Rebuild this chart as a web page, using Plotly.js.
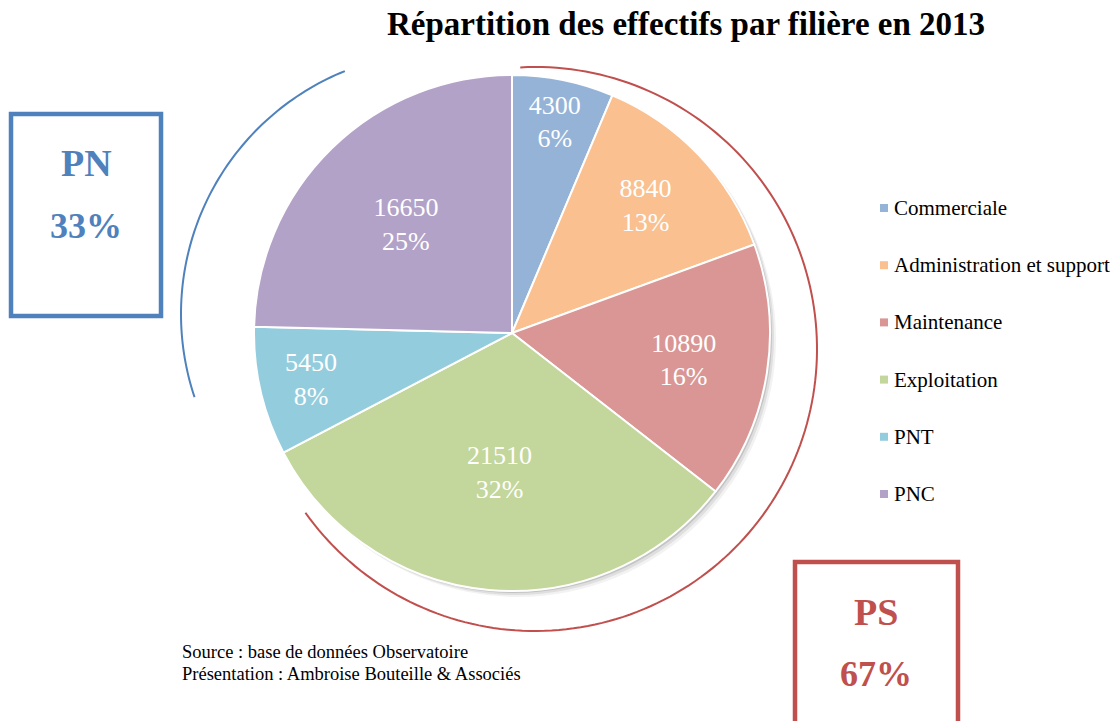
<!DOCTYPE html>
<html>
<head>
<meta charset="utf-8">
<script src="https://cdn.plot.ly/plotly-3.0.1.min.js"></script>
<style>html,body{margin:0;padding:0;background:#fff;}#chart{width:1118px;height:721px;}</style>
</head>
<body>
<div id="chart"></div>
<script>
const categories = ['Commerciale', 'Administration et support', 'Maintenance', 'Exploitation', 'PNT', 'PNC'];
const values = [4300, 8840, 10890, 21510, 5450, 16650];
const sliceColors = ['#95B3D7', '#FAC090', '#D99694', '#C3D69B', '#93CDDD', '#B3A2C7'];
const groupNames = ['PN', 'PS'];
const groupShares = ['33%', '67%'];
const groupColors = ['#4F81BD', '#C0504D'];
const titleText = 'Répartition des effectifs par filière en 2013';
const sourceLines = ['Source : base de données Observatoire', 'Présentation : Ambroise Bouteille &amp; Associés'];

const W = 1118, H = 721;
const FONT = '"Liberation Serif", "Times New Roman", serif';
const px = x => x / W;
const py = y => 1 - y / H;

function arcPath(cx, cy, r, a0, a1, n) {
  let d = '';
  for (let i = 0; i <= n; i++) {
    const a = (a0 + (a1 - a0) * i / n) * Math.PI / 180;
    const x = px(cx + r * Math.cos(a));
    const y = py(cy + r * Math.sin(a));
    d += (i === 0 ? 'M' : 'L') + x.toFixed(5) + ',' + y.toFixed(5);
  }
  return d;
}

const shapes = [];
const annotations = [];

// soft shadow behind pie
const pcx = 512, pcy = 333, pr = 258;
[[6, 0.05], [4, 0.08], [2, 0.12]].forEach(([o, op]) => {
  shapes.push({type: 'circle', xref: 'paper', yref: 'paper', layer: 'below',
    x0: px(pcx - pr + o), x1: px(pcx + pr + o), y0: py(pcy + pr + o), y1: py(pcy - pr + o),
    fillcolor: 'rgba(0,0,0,' + op + ')', line: {width: 0}});
});

// arcs
shapes.push({type: 'path', xref: 'paper', yref: 'paper', path: arcPath(443, 314, 262, 248, 161.5, 80),
  line: {color: groupColors[0], width: 2}});
shapes.push({type: 'path', xref: 'paper', yref: 'paper', path: arcPath(535, 349, 282, -93, 144.5, 160),
  line: {color: groupColors[1], width: 2}});

// group boxes
const boxes = [
  {x0: 11, y0: 114, x1: 161, y1: 316, tx: 86, t1: 163, t2: 226},
  {x0: 795, y0: 562, x1: 958, y1: 740, tx: 876, t1: 612, t2: 674}
];
boxes.forEach((b, i) => {
  shapes.push({type: 'rect', xref: 'paper', yref: 'paper',
    x0: px(b.x0), x1: px(b.x1), y0: py(b.y1), y1: py(b.y0),
    line: {color: groupColors[i], width: 4.5}});
  annotations.push({xref: 'paper', yref: 'paper', x: px(b.tx), y: py(b.t1), xanchor: 'center', yanchor: 'middle',
    text: '<b>' + groupNames[i] + '</b>', showarrow: false, font: {family: FONT, size: 38, color: groupColors[i]}});
  annotations.push({xref: 'paper', yref: 'paper', x: px(b.tx), y: py(b.t2), xanchor: 'center', yanchor: 'middle',
    text: '<b>' + groupShares[i] + '</b>', showarrow: false, font: {family: FONT, size: 36, color: groupColors[i]}});
});

// manual legend
categories.forEach((c, i) => {
  const y = 208 + i * 57.2;
  shapes.push({type: 'rect', xref: 'paper', yref: 'paper',
    x0: px(880), x1: px(888), y0: py(y + 4), y1: py(y - 4),
    fillcolor: sliceColors[i], line: {width: 0}});
  annotations.push({xref: 'paper', yref: 'paper', x: px(892), y: py(y), xanchor: 'left', yanchor: 'middle',
    text: c, showarrow: false, font: {family: FONT, size: 21, color: '#000'}});
});

// source
sourceLines.forEach((s, i) => {
  annotations.push({xref: 'paper', yref: 'paper', x: px(181), y: py(652 + i * 22), xanchor: 'left', yanchor: 'middle',
    text: s, showarrow: false, borderpad: 0, font: {family: FONT, size: 18.5, color: '#000'}});
});

const trace = {
  type: 'pie',
  labels: categories,
  values: values,
  sort: false,
  direction: 'clockwise',
  rotation: 0,
  marker: {colors: sliceColors, line: {color: '#ffffff', width: 2}},
  texttemplate: '%{value:.0f}<br>%{percent:.0%}',
  textposition: 'inside',
  insidetextorientation: 'horizontal',
  textfont: {family: FONT, size: 26, color: '#ffffff'},
  hoverinfo: 'label+value+percent',
  showlegend: false,
  domain: {x: [px(pcx - pr), px(pcx + pr)], y: [py(pcy + pr), py(pcy - pr)]}
};

const layout = {
  width: W, height: H,
  margin: {l: 0, r: 0, t: 0, b: 0},
  paper_bgcolor: '#ffffff',
  plot_bgcolor: '#ffffff',
  showlegend: false,
  title: {text: '<b>' + titleText + '</b>', x: px(686), xanchor: 'center', y: 1 - 23 / H, yanchor: 'middle',
    xref: 'paper', yref: 'container', font: {family: FONT, size: 33, color: '#000'}},
  shapes: shapes,
  annotations: annotations
};

Plotly.newPlot('chart', [trace], layout, {displayModeBar: false, staticPlot: true});
</script>
</body>
</html>
